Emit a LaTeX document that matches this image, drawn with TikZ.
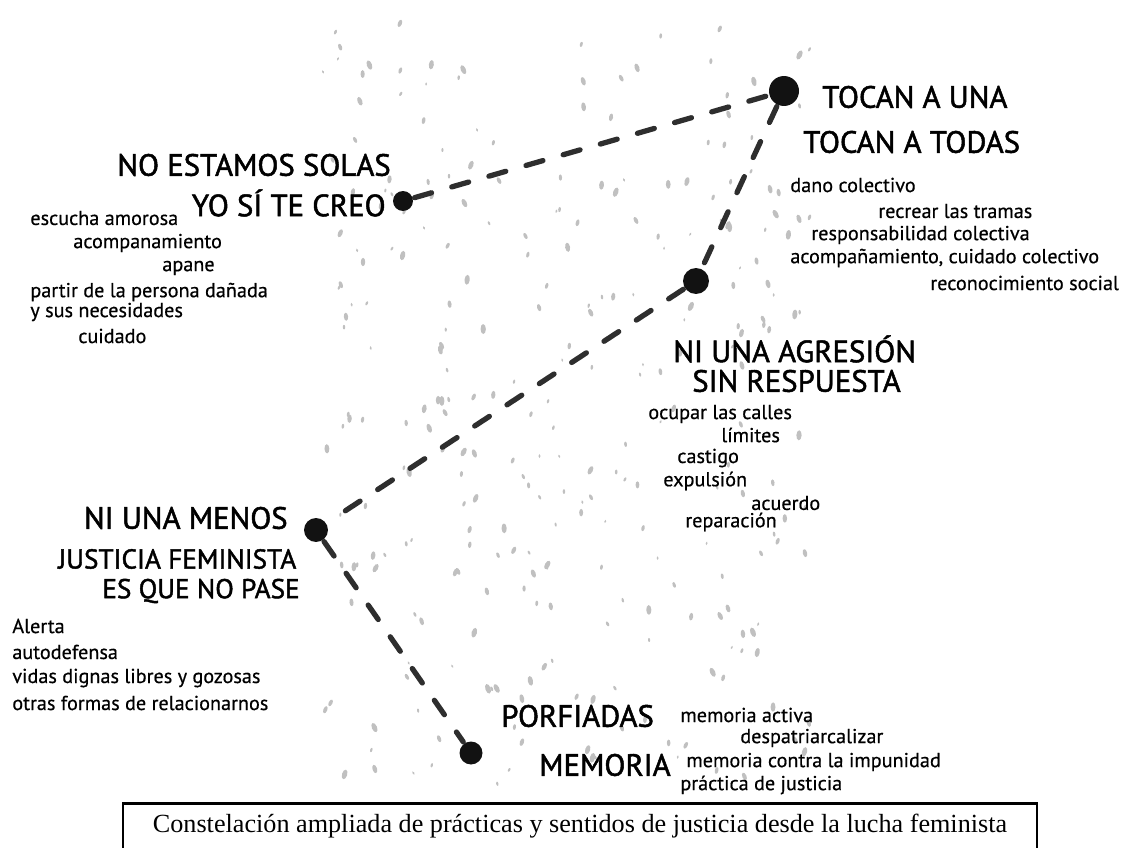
\documentclass[tikz,border=0pt]{standalone}
\usepackage{fontspec}
\setmainfont{Liberation Serif}
\newfontfamily\hand[FakeBold=0.5]{PT Sans}
\newfontfamily\handcaps[FakeBold=1.6]{PT Sans}
\usetikzlibrary{calc}
\definecolor{inkBlack}{RGB}{18,18,18}
\definecolor{speckGray}{RGB}{192,192,192}
\tikzset{
  dot/.style={circle, fill=inkBlack, inner sep=0pt, minimum size=#1},
  dot/.default=0.46cm,
  link/.style={line width=3pt, inkBlack!88, dash pattern=on 10pt off 12pt, line cap=round, shorten <=1pt, shorten >=1pt},
  title/.style={font=\handcaps\fontsize{17.5}{20}\selectfont, anchor=west, inner sep=0pt},
  subtitle/.style={font=\handcaps\fontsize{15.5}{18}\selectfont, anchor=west, inner sep=0pt},
  item/.style={font=\hand\fontsize{11.5}{14}\selectfont, anchor=west, inner sep=0pt},
  caption/.style={font=\fontsize{14.9}{17}\selectfont, minimum width=18.28cm, minimum height=0.88cm, inner sep=0pt}
}

\begin{document}
\begin{tikzpicture}[x=0.02cm, y=-0.02cm]
  \useasboundingbox (0,0) rectangle (1127,848);

  % speckles in the background
  \pgfmathsetseed{42}
  \foreach \k in {1,...,280}{
    \pgfmathsetmacro{\sx}{565+245*rand}
    \pgfmathsetmacro{\sy}{405+385*rand}
    \pgfmathsetmacro{\sr}{0.5+1.0*rnd}
    \pgfmathsetmacro{\sa}{-30+60*rnd}
    \fill[speckGray, rotate around={\sa:(\sx,\sy)}] (\sx,\sy) ellipse [x radius=\sr pt, y radius=1.9*\sr pt];
  }

  % the five stars
  \node[dot=0.6cm] (tocan) at (784,91) {};
  \node[dot=0.4cm] (solas) at (403,201) {};
  \node[dot=0.52cm] (agresion) at (696,281) {};
  \node[dot=0.48cm] (menos) at (316,530) {};
  \node[dot=0.46cm] (porfiadas) at (471,753) {};

  \draw[link] (solas) -- (tocan);
  \draw[link] (tocan) -- (agresion);
  \draw[link] (agresion) -- (menos);
  \draw[link] (menos) -- (porfiadas);

  % no estamos solas
  \node[title] (t1a) at (117,165) {NO ESTAMOS SOLAS};
  \node[title, anchor=east] (t1b) at (386,203) {YO SÍ TE CREO};
  \node[item] at (30,218) {escucha amorosa};
  \node[item] at (73,243) {acompanamiento};
  \node[item] at (162,268) {apane};
  \node[item] at (30,292) {partir de la persona dañada};
  \node[item] at (30,312) {y sus necesidades};
  \node[item] at (78,336) {cuidado};

  % tocan a una
  \node[title] (t2a) at (822,97) {TOCAN A UNA};
  \node[title] (t2b) at (803,142) {TOCAN A TODAS};
  \node[item] at (790,185) {dano colectivo};
  \node[item] at (878,211) {recrear las tramas};
  \node[item] at (811,235) {responsabilidad colectiva};
  \node[item] at (790,258) {acompañamiento, cuidado colectivo};
  \node[item] at (930,283) {reconocimiento social};

  % ni una agresion
  \node[title] (t3a) at (673,349) {NI UNA AGRESIÓN};
  \node[title] (t3b) at (692,381) {SIN RESPUESTA};
  \node[item] at (648,414) {ocupar las calles};
  \node[item] at (721,435) {límites};
  \node[item] at (677,458) {castigo};
  \node[item] at (663,481) {expulsión};
  \node[item] at (751,503) {acuerdo};
  \node[item] at (685,522) {reparación};

  % ni una menos
  \node[title, anchor=east] (t4a) at (288,518) {NI UNA MENOS};
  \node[subtitle] (t4b) at (58,559) {JUSTICIA FEMINISTA};
  \node[subtitle] (t4c) at (102,591) {ES QUE NO PASE};
  \node[item] at (12,626) {Alerta};
  \node[item] at (12,652) {autodefensa};
  \node[item] at (12,678) {vidas dignas libres y gozosas};
  \node[item] at (12,703) {otras formas de relacionarnos};

  % porfiadas
  \node[title] (t5a) at (501,716) {PORFIADAS};
  \node[title, anchor=east] (t5b) at (671,765) {MEMORIA};
  \node[item] at (680,715) {memoria activa};
  \node[item] at (740,738) {despatriarcalizar};
  \node[item] at (686,762) {memoria contra la impunidad};
  \node[item] at (680,785) {práctica de justicia};

  % caption box, open at the bottom
  \node[caption] (cap) at (580,826) {Constelación ampliada de prácticas y sentidos de justicia desde la lucha feminista};
  \draw[line width=1.4pt] (cap.south west) -- (cap.north west) -- (cap.north east) -- (cap.south east);
\end{tikzpicture}
\end{document}
